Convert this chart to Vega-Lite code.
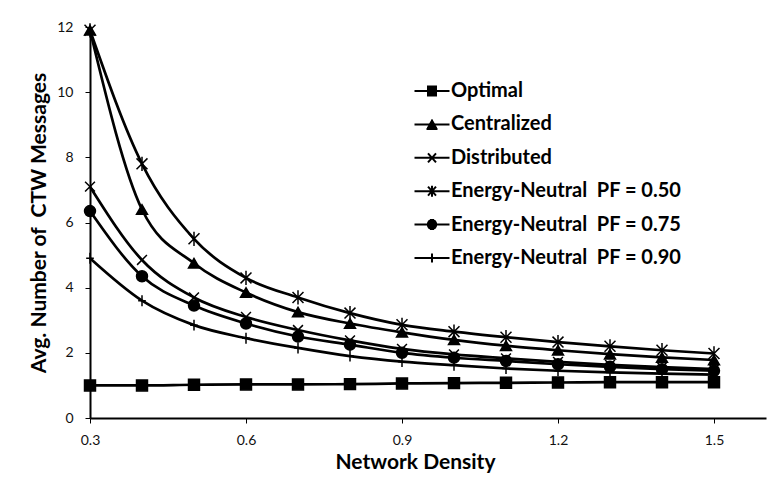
{
  "$schema": "https://vega.github.io/schema/vega-lite/v6.json",
  "width": 676,
  "height": 391,
  "autosize": "none",
  "padding": {"left": 90, "top": 27, "right": 12, "bottom": 62},
  "background": "white",
  "config": {
    "view": {"stroke": null},
    "font": "Lato",
    "axis": {
      "domainColor": "black",
      "domainWidth": 2,
      "tickColor": "black",
      "tickWidth": 1,
      "tickSize": 5,
      "grid": false,
      "labelFont": "Lato",
      "labelFontSize": 14,
      "labelColor": "#111",
      "titleFont": "Lato",
      "titleFontSize": 21,
      "titleFontWeight": "bold",
      "titleColor": "black"
    }
  },
  "data": {
    "values": [
      {"x": 0.3, "series": "Optimal", "y": 1.0},
      {"x": 0.4, "series": "Optimal", "y": 1.0},
      {"x": 0.5, "series": "Optimal", "y": 1.02},
      {"x": 0.6, "series": "Optimal", "y": 1.03},
      {"x": 0.7, "series": "Optimal", "y": 1.03},
      {"x": 0.8, "series": "Optimal", "y": 1.04},
      {"x": 0.9, "series": "Optimal", "y": 1.06},
      {"x": 1.0, "series": "Optimal", "y": 1.07},
      {"x": 1.1, "series": "Optimal", "y": 1.08},
      {"x": 1.2, "series": "Optimal", "y": 1.09},
      {"x": 1.3, "series": "Optimal", "y": 1.1},
      {"x": 1.4, "series": "Optimal", "y": 1.1},
      {"x": 1.5, "series": "Optimal", "y": 1.1},
      {"x": 0.3, "series": "Centralized", "y": 11.9},
      {"x": 0.4, "series": "Centralized", "y": 6.4},
      {"x": 0.5, "series": "Centralized", "y": 4.75},
      {"x": 0.6, "series": "Centralized", "y": 3.85},
      {"x": 0.7, "series": "Centralized", "y": 3.25},
      {"x": 0.8, "series": "Centralized", "y": 2.9},
      {"x": 0.9, "series": "Centralized", "y": 2.63},
      {"x": 1.0, "series": "Centralized", "y": 2.4},
      {"x": 1.1, "series": "Centralized", "y": 2.22},
      {"x": 1.2, "series": "Centralized", "y": 2.08},
      {"x": 1.3, "series": "Centralized", "y": 1.96},
      {"x": 1.4, "series": "Centralized", "y": 1.86},
      {"x": 1.5, "series": "Centralized", "y": 1.78},
      {"x": 0.3, "series": "Distributed", "y": 7.1},
      {"x": 0.4, "series": "Distributed", "y": 4.85},
      {"x": 0.5, "series": "Distributed", "y": 3.7},
      {"x": 0.6, "series": "Distributed", "y": 3.1},
      {"x": 0.7, "series": "Distributed", "y": 2.7},
      {"x": 0.8, "series": "Distributed", "y": 2.38},
      {"x": 0.9, "series": "Distributed", "y": 2.12},
      {"x": 1.0, "series": "Distributed", "y": 1.95},
      {"x": 1.1, "series": "Distributed", "y": 1.83},
      {"x": 1.2, "series": "Distributed", "y": 1.72},
      {"x": 1.3, "series": "Distributed", "y": 1.63},
      {"x": 1.4, "series": "Distributed", "y": 1.56},
      {"x": 1.5, "series": "Distributed", "y": 1.5},
      {"x": 0.3, "series": "Energy-Neutral\u00a0 PF = 0.50", "y": 11.9},
      {"x": 0.4, "series": "Energy-Neutral\u00a0 PF = 0.50", "y": 7.8},
      {"x": 0.5, "series": "Energy-Neutral\u00a0 PF = 0.50", "y": 5.5},
      {"x": 0.6, "series": "Energy-Neutral\u00a0 PF = 0.50", "y": 4.3},
      {"x": 0.7, "series": "Energy-Neutral\u00a0 PF = 0.50", "y": 3.7},
      {"x": 0.8, "series": "Energy-Neutral\u00a0 PF = 0.50", "y": 3.22},
      {"x": 0.9, "series": "Energy-Neutral\u00a0 PF = 0.50", "y": 2.86},
      {"x": 1.0, "series": "Energy-Neutral\u00a0 PF = 0.50", "y": 2.65},
      {"x": 1.1, "series": "Energy-Neutral\u00a0 PF = 0.50", "y": 2.48},
      {"x": 1.2, "series": "Energy-Neutral\u00a0 PF = 0.50", "y": 2.33},
      {"x": 1.3, "series": "Energy-Neutral\u00a0 PF = 0.50", "y": 2.2},
      {"x": 1.4, "series": "Energy-Neutral\u00a0 PF = 0.50", "y": 2.08},
      {"x": 1.5, "series": "Energy-Neutral\u00a0 PF = 0.50", "y": 1.98},
      {"x": 0.3, "series": "Energy-Neutral\u00a0 PF = 0.75", "y": 6.35},
      {"x": 0.4, "series": "Energy-Neutral\u00a0 PF = 0.75", "y": 4.35},
      {"x": 0.5, "series": "Energy-Neutral\u00a0 PF = 0.75", "y": 3.45},
      {"x": 0.6, "series": "Energy-Neutral\u00a0 PF = 0.75", "y": 2.9},
      {"x": 0.7, "series": "Energy-Neutral\u00a0 PF = 0.75", "y": 2.5},
      {"x": 0.8, "series": "Energy-Neutral\u00a0 PF = 0.75", "y": 2.25},
      {"x": 0.9, "series": "Energy-Neutral\u00a0 PF = 0.75", "y": 2.0},
      {"x": 1.0, "series": "Energy-Neutral\u00a0 PF = 0.75", "y": 1.85},
      {"x": 1.1, "series": "Energy-Neutral\u00a0 PF = 0.75", "y": 1.75},
      {"x": 1.2, "series": "Energy-Neutral\u00a0 PF = 0.75", "y": 1.65},
      {"x": 1.3, "series": "Energy-Neutral\u00a0 PF = 0.75", "y": 1.57},
      {"x": 1.4, "series": "Energy-Neutral\u00a0 PF = 0.75", "y": 1.5},
      {"x": 1.5, "series": "Energy-Neutral\u00a0 PF = 0.75", "y": 1.45},
      {"x": 0.3, "series": "Energy-Neutral\u00a0 PF = 0.90", "y": 4.9},
      {"x": 0.4, "series": "Energy-Neutral\u00a0 PF = 0.90", "y": 3.6},
      {"x": 0.5, "series": "Energy-Neutral\u00a0 PF = 0.90", "y": 2.85},
      {"x": 0.6, "series": "Energy-Neutral\u00a0 PF = 0.90", "y": 2.45},
      {"x": 0.7, "series": "Energy-Neutral\u00a0 PF = 0.90", "y": 2.15},
      {"x": 0.8, "series": "Energy-Neutral\u00a0 PF = 0.90", "y": 1.9},
      {"x": 0.9, "series": "Energy-Neutral\u00a0 PF = 0.90", "y": 1.73},
      {"x": 1.0, "series": "Energy-Neutral\u00a0 PF = 0.90", "y": 1.62},
      {"x": 1.1, "series": "Energy-Neutral\u00a0 PF = 0.90", "y": 1.52},
      {"x": 1.2, "series": "Energy-Neutral\u00a0 PF = 0.90", "y": 1.45},
      {"x": 1.3, "series": "Energy-Neutral\u00a0 PF = 0.90", "y": 1.4},
      {"x": 1.4, "series": "Energy-Neutral\u00a0 PF = 0.90", "y": 1.36},
      {"x": 1.5, "series": "Energy-Neutral\u00a0 PF = 0.90", "y": 1.33}
    ]
  },
  "encoding": {
    "x": {
      "field": "x",
      "type": "quantitative",
      "scale": {"domain": [0.3, 1.6], "nice": false, "zero": false},
      "axis": {
        "values": [0.3, 0.6, 0.9, 1.2, 1.5],
        "format": ".1f",
        "title": "Network Density",
        "labelPadding": 10,
        "titlePadding": 4,
        "titleX": 325,
        "titleAnchor": "middle",
        "labelFlush": false
      }
    },
    "y": {
      "field": "y",
      "type": "quantitative",
      "scale": {"domain": [0, 12], "nice": false},
      "axis": {
        "values": [0, 2, 4, 6, 8, 10, 12],
        "title": "Avg. Number of\u00a0 CTW Messages",
        "labelPadding": 12,
        "titlePadding": 7
      }
    }
  },
  "layer": [
    {
      "mark": {"type": "line", "color": "black", "interpolate": "monotone", "strokeWidth": 2.7},
      "encoding": {
        "detail": {"field": "series"}
      }
    },
    {
      "mark": {"type": "point", "filled": true, "color": "black", "stroke": "black", "strokeWidth": 1.5, "opacity": 1, "size": 120},
      "encoding": {
        "shape": {
          "field": "series",
          "type": "nominal",
          "scale": {
            "domain": ["Optimal", "Centralized", "Distributed", "Energy-Neutral\u00a0 PF = 0.50", "Energy-Neutral\u00a0 PF = 0.75", "Energy-Neutral\u00a0 PF = 0.90"],
            "range": ["square", "triangle-up", "M-0.9,-0.9L0.9,0.9M0.9,-0.9L-0.9,0.9", "M-1,-1L1,1M1,-1L-1,1M0,-1.3V1.3", "circle", "M-0.7,0H0.7M0,-1V1"]
          },
          "legend": null
        }
      }
    },
    {
      "mark": {"type": "point", "filled": false, "color": "black", "strokeWidth": 2, "size": 0, "opacity": 1},
      "encoding": {
        "shape": {
          "field": "series",
          "type": "nominal",
          "scale": {
            "domain": ["Optimal", "Centralized", "Distributed", "Energy-Neutral\u00a0 PF = 0.50", "Energy-Neutral\u00a0 PF = 0.75", "Energy-Neutral\u00a0 PF = 0.90"],
            "range": [
              "M-1.75,0H1.75M-0.5,-0.45H0.5M-0.5,-0.35H0.5M-0.5,-0.25H0.5M-0.5,-0.15H0.5M-0.5,-0.05H0.5M-0.5,0.05H0.5M-0.5,0.15H0.5M-0.5,0.25H0.5M-0.5,0.35H0.5M-0.5,0.45H0.5",
              "M-1.75,0H1.75M-0.055,-0.45H0.055M-0.11,-0.35H0.11M-0.165,-0.25H0.165M-0.22,-0.15H0.22M-0.275,-0.05H0.275M-0.33,0.05H0.33M-0.385,0.15H0.385M-0.44,0.25H0.44M-0.495,0.35H0.495M-0.55,0.45H0.55",
              "M-1.75,0H1.75M-0.4,-0.45L0.4,0.45M0.4,-0.45L-0.4,0.45",
              "M-1.75,0H1.75M-0.4,-0.45L0.4,0.45M0.4,-0.45L-0.4,0.45M0,-0.55V0.55",
              "M-1.75,0H1.75M-0.22,-0.45H0.22M-0.36,-0.35H0.36M-0.43,-0.25H0.43M-0.48,-0.15H0.48M-0.5,-0.05H0.5M-0.5,0.05H0.5M-0.48,0.15H0.48M-0.43,0.25H0.43M-0.36,0.35H0.36M-0.22,0.45H0.22",
              "M-1.75,0H1.75M0,-0.45V0.45"
            ]
          },
          "legend": {
            "title": null,
            "orient": "none",
            "legendX": 331,
            "legendY": 53,
            "padding": 0,
            "rowPadding": 12.4,
            "symbolSize": 400,
            "symbolStrokeWidth": 2,
            "labelOffset": 8,
            "labelFont": "Lato",
            "labelFontSize": 20,
            "labelFontWeight": "bold",
            "labelColor": "black",
            "labelLimit": 400
          }
        }
      }
    }
  ],
  "resolve": {"scale": {"shape": "independent"}, "legend": {"shape": "independent"}}
}
